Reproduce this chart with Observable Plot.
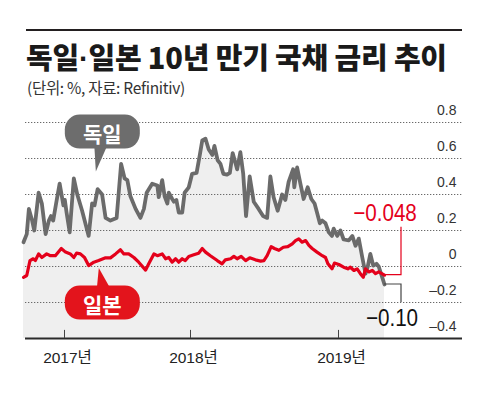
<!DOCTYPE html>
<html><head><meta charset="utf-8">
<script src="https://cdn.jsdelivr.net/npm/d3@7"></script>
<script src="https://cdn.jsdelivr.net/npm/@observablehq/plot@0.6"></script>
<style>
html,body{margin:0;padding:0;background:#fff;}
body{width:485px;height:395px;position:relative;overflow:hidden;font-family:"Noto Sans CJK KR","Noto Sans",sans-serif;}
#rule{position:absolute;left:26px;top:29px;width:436px;height:2px;background:#231f20;}
#title{position:absolute;left:26px;top:34px;font-size:29px;font-weight:900;line-height:44px;color:#1a1a1a;white-space:nowrap;letter-spacing:-0.2px;}
#title .dot{font-family:"Liberation Sans",sans-serif;font-weight:700;}
#sub{position:absolute;left:27px;top:76px;font-size:15.5px;line-height:22px;color:#333;white-space:nowrap;letter-spacing:-0.3px;}
#chart{position:absolute;left:0;top:100px;}
</style></head><body>
<div id="rule"></div>
<div id="title">독일<span class="dot">·</span>일본 10년 만기 국채 금리 추이</div>
<div id="sub">(단위: %, 자료: Refinitiv)</div>
<div id="chart"></div>
<script>
// ---- data ----
const seriesNames = ["독일", "일본"];
const deDates = ["2016-10-17","2016-10-23","2016-10-27","2016-11-02","2016-11-06","2016-11-14","2016-11-20","2016-11-27","2016-12-03","2016-12-07","2016-12-11","2016-12-17","2016-12-23","2016-12-30",
"2017-01-02","2017-01-07","2017-01-16","2017-01-28","2017-02-07","2017-02-21","2017-03-12","2017-03-22","2017-03-29","2017-04-07","2017-04-20","2017-04-30","2017-05-14","2017-06-01","2017-06-14","2017-06-24","2017-07-02","2017-07-11","2017-07-26","2017-08-09","2017-08-19","2017-08-27","2017-09-12","2017-09-27","2017-10-01","2017-10-11","2017-10-18","2017-10-26","2017-10-30","2017-11-09","2017-11-14","2017-11-21","2017-11-28","2017-12-08","2017-12-15","2017-12-27",
"2018-01-05","2018-01-16","2018-01-24","2018-01-30","2018-02-07","2018-02-15","2018-02-24","2018-03-01","2018-03-09","2018-03-16","2018-03-23","2018-04-01","2018-04-08","2018-04-15","2018-04-20","2018-04-26","2018-05-04","2018-05-11","2018-05-18","2018-05-27","2018-06-06","2018-06-18","2018-06-29","2018-07-09","2018-07-17","2018-07-25","2018-08-04","2018-08-15","2018-08-23","2018-08-31","2018-09-11","2018-09-14","2018-09-21","2018-09-29","2018-10-07","2018-10-17","2018-10-26","2018-11-03","2018-11-09","2018-11-16","2018-11-22","2018-11-30","2018-12-08","2018-12-16","2018-12-20","2018-12-29",
"2019-01-07","2019-01-17","2019-02-02","2019-02-13","2019-02-23","2019-03-05","2019-03-16","2019-03-26","2019-04-02","2019-04-10","2019-04-19","2019-04-29","2019-05-06","2019-05-17","2019-05-24"];
const deValues = [0.135,0.18,0.32,0.255,0.20,0.41,0.35,0.18,0.255,0.28,0.255,0.36,0.46,0.34,
0.37,0.30,0.19,0.49,0.40,0.31,0.17,0.35,0.34,0.43,0.40,0.27,0.255,0.27,0.57,0.49,0.48,0.39,0.32,0.27,0.32,0.41,0.46,0.45,0.385,0.48,0.39,0.35,0.41,0.375,0.36,0.37,0.30,0.30,0.41,0.44,
0.515,0.52,0.62,0.70,0.71,0.65,0.62,0.67,0.59,0.57,0.515,0.51,0.52,0.63,0.59,0.54,0.635,0.515,0.28,0.50,0.36,0.32,0.28,0.27,0.50,0.385,0.31,0.40,0.37,0.47,0.54,0.44,0.55,0.46,0.375,0.44,0.375,0.35,0.30,0.24,0.255,0.24,0.19,0.17,0.21,0.17,
0.20,0.15,0.145,0.17,0.115,0.155,0.05,-0.04,0.0,0.07,0.005,0.015,0.0,-0.06,-0.10];
const jpDates = ["2016-10-17","2016-10-23","2016-10-29","2016-11-04","2016-11-08","2016-11-14","2016-11-20","2016-11-29","2016-12-06","2016-12-15","2016-12-26",
"2017-01-04","2017-01-18","2017-01-28","2017-02-05","2017-02-16","2017-02-28","2017-03-12","2017-03-27","2017-04-10","2017-04-30","2017-05-14","2017-05-29","2017-06-12","2017-06-22","2017-07-06","2017-07-21","2017-08-04","2017-08-24","2017-09-02","2017-09-17","2017-09-27","2017-10-11","2017-10-21","2017-10-30","2017-11-09","2017-11-19","2017-11-28","2017-12-08","2017-12-17","2017-12-27",
"2018-01-09","2018-01-21","2018-01-30","2018-02-07","2018-02-19","2018-03-08","2018-03-20","2018-03-28","2018-04-10","2018-04-18","2018-04-26","2018-05-06","2018-05-17","2018-05-27","2018-06-10","2018-06-23","2018-07-01","2018-07-09","2018-07-19","2018-07-27","2018-08-07","2018-08-18","2018-08-29","2018-09-09","2018-09-17","2018-09-25","2018-10-03","2018-10-12","2018-10-20","2018-10-28","2018-11-09","2018-11-22","2018-11-30","2018-12-06","2018-12-16","2018-12-22",
"2019-01-02","2019-01-17","2019-01-30","2019-02-07","2019-02-18","2019-02-28","2019-03-10","2019-03-19","2019-03-26","2019-04-05","2019-04-16","2019-04-26","2019-05-06","2019-05-24"];
const jpValues = [-0.06,-0.05,0.033,0.043,0.033,0.07,0.05,0.07,0.06,0.06,0.10,
0.08,0.07,0.05,0.074,0.07,0.05,0.005,0.024,0.033,0.048,0.048,0.07,0.093,0.07,0.07,0.05,0.024,-0.02,0.015,0.07,0.06,0.07,0.043,0.05,0.024,0.043,0.024,0.043,0.033,0.056,
0.065,0.074,0.10,0.08,0.06,0.033,0.015,0.037,0.043,0.056,0.043,0.056,0.033,0.048,0.037,0.03,0.033,0.06,0.11,0.10,0.09,0.107,0.11,0.126,0.144,0.154,0.135,0.144,0.117,0.10,0.08,0.06,0.05,0.015,-0.013,0.019,
0.011,-0.004,-0.013,-0.004,-0.022,-0.013,-0.04,-0.06,-0.013,-0.03,-0.022,-0.04,-0.03,-0.048];
const lastLabels = ["−0.10", "−0.048"];
const yTicks = [0.8, 0.6, 0.4, 0.2, 0, -0.2, -0.4];
const yTickLabels = ["0.8", "0.6", "0.4", "0.2", "0", "–0.2", "–0.4"];
const xTicks = ["2017-01-01", "2018-01-01", "2019-01-01"];
const xTickLabels = ["2017년", "2018년", "2019년"];

// ---- build ----
const de = deDates.map((d, i) => ({date: new Date(d), value: deValues[i]}));
const jp = jpDates.map((d, i) => ({date: new Date(d), value: jpValues[i]}));
const xTickDates = xTicks.map(d => new Date(d));
const grey = "#6b6b6b", red = "#e4001b";

// x anchors: the reference's time axis is not uniform; map these dates to the reference's positions
const xAnchors = [deDates[0], xTicks[0], xTicks[1], xTicks[2], deDates[deDates.length - 1]].map(d => new Date(d));
const xAnchorPx = [23, 64, 190, 338, 384];

const bubbles = [
  {text: seriesNames[0], date: "2017-04-22", value: 0.747, color: "#6d6d6d", dir: "down"},
  {text: seriesNames[1], date: "2017-04-22", value: -0.203, color: "#e3141c", dir: "up"}
];

function annotations(index, scales) {
  const {x, y} = scales;
  const g = d3.create("svg:g");
  for (const b of bubbles) {
    const cx = x(new Date(b.date)), cy = y(b.value);
    g.append("rect").attr("x", cx - 37.5).attr("y", cy - 17).attr("width", 75).attr("height", 34)
      .attr("rx", 15).attr("fill", b.color);
    if (b.dir === "down") {
      g.append("path").attr("d", `M${cx-8},${cy+14}L${cx+5},${cy+14}L${cx-6.5},${cy+40}Z`).attr("fill", b.color);
    } else {
      g.append("path").attr("d", `M${cx-5.5},${cy-14}L${cx+8},${cy-14}L${cx-3.5},${cy-34.5}Z`).attr("fill", b.color);
    }
    g.append("text").attr("x", cx).attr("y", cy + 1).attr("text-anchor", "middle")
      .attr("dominant-baseline", "central").attr("fill", "#fff")
      .attr("font-size", 21).attr("font-weight", 700)
      .attr("font-family", "'Noto Sans CJK KR',sans-serif").text(b.text);
  }
  // leader lines and end-value labels
  const lg = de[de.length - 1], lj = jp[jp.length - 1];
  const xg = x(lg.date), yg = y(lg.value), xj = x(lj.date), yj = y(lj.value);
  g.append("path").attr("d", `M${xj},${yj}H${xj+17}V${yj-48}`).attr("fill", "none").attr("stroke", red).attr("stroke-width", 1.2);
  g.append("path").attr("d", `M${xg},${yg}H${xg+17}V${yg+18}`).attr("fill", "none").attr("stroke", "#444").attr("stroke-width", 1.2);
  const lab = (tx, ty, txt, fill) => g.append("text")
    .attr("transform", `translate(${tx},${ty}) scale(0.86,1)`)
    .attr("text-anchor", "middle").attr("dominant-baseline", "central")
    .attr("font-family", "'Liberation Sans',sans-serif").attr("font-size", 24)
    .attr("fill", fill).text(txt);
  lab(xj + 1, yj - 62, lastLabels[1], red);
  lab(xg + 8, yg + 34, lastLabels[0], "#111");
  return g.node();
}

const chart = Plot.plot({
  width: 485,
  height: 295,
  marginTop: 22,
  marginBottom: 57,
  marginLeft: 25,
  marginRight: 23,
  style: {background: "#fff", overflow: "visible", fontFamily: "'Liberation Sans','Noto Sans CJK KR',sans-serif"},
  x: {type: "utc", domain: xAnchors, range: xAnchorPx, axis: null},
  y: {domain: [-0.4, 0.8], axis: null},
  marks: [
    Plot.areaY(de, {x: "date", y1: -0.4, y2: "value", fill: "#efefef"}),
    Plot.ruleY(yTicks.filter(d => d > -0.4), {stroke: "#6a6a6a", strokeWidth: 1, strokeDasharray: "1.3,1.7"}),
    Plot.line(de, {x: "date", y: "value", stroke: grey, strokeWidth: 3.8, strokeLinejoin: "round", strokeLinecap: "round"}),
    Plot.line(jp, {x: "date", y: "value", stroke: red, strokeWidth: 3.2, strokeLinejoin: "round", strokeLinecap: "round"}),
    Plot.ruleY([-0.4], {stroke: "#2b2b2b", strokeWidth: 2}),
    Plot.ruleX(xTickDates, {x: d => d, y1: -0.4, y2: -0.355, stroke: "#444", strokeWidth: 1}),
    Plot.text(xTickDates, {x: d => d, y: -0.4, dy: 20, dx: 3, text: (d, i) => xTickLabels[i], fontSize: 15.5, fill: "#222", fontFamily: "'Liberation Sans','Noto Sans CJK KR',sans-serif"}),
    Plot.text(yTicks, {y: d => d, frameAnchor: "right", dx: -6, dy: -12, text: (d, i) => yTickLabels[i], textAnchor: "end", fontSize: 14, fill: "#333"}),
    annotations
  ]
});
document.getElementById("chart").appendChild(chart);
</script></body></html>
